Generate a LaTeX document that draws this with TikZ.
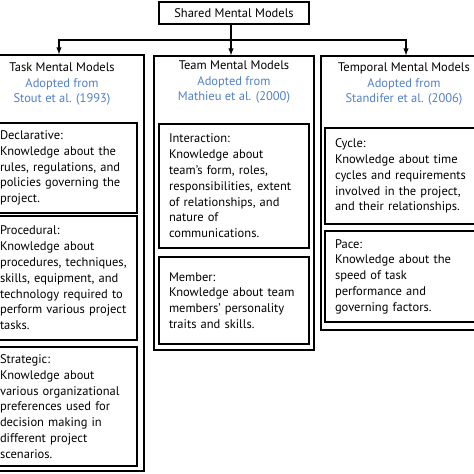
\documentclass[tikz,border=0pt]{standalone}
\usepackage{fontspec}
\setmainfont{PT Sans}
\usetikzlibrary{arrows.meta}
\definecolor{refblue}{RGB}{80,128,204}
\newcommand{\kfont}{\fontsize{12.5}{15.8}\selectfont}

\begin{document}
\begin{tikzpicture}[x=1pt, y=-1pt, >=latex, font=\kfont,
    outerbox/.style={draw, rectangle, line width=1.3pt},
    kbox/.style={draw, rectangle, line width=1.4pt, align=left, inner xsep=10pt, inner ysep=0pt, text width=#1},
    headtext/.style={align=center, inner sep=0pt}]
    \useasboundingbox (0,0) rectangle (474,474);
    \clip (0,0) rectangle (474,474);

    % top
    \node[outerbox, minimum width=150pt, minimum height=22pt, inner sep=0pt] (shared) at (234,13) {Shared Mental Models};
    \coordinate (fork) at (231,40);

    % columns
    \node[outerbox, minimum width=162pt, minimum height=416pt] (task) at (63,263) {};
    \node[outerbox, minimum width=160pt, minimum height=294pt] (team) at (234,203) {};
    \node[outerbox, minimum width=166pt, minimum height=274pt] (temporal) at (404,193) {};

    \node[headtext] (taskhead) at (62,84) {Task Mental Models\\\textcolor{refblue}{Adopted from}\\\textcolor{refblue}{Stout et al. (1993)}};
    \node[headtext] (teamhead) at (234,82) {Team Mental Models\\\textcolor{refblue}{Adopted from}\\\textcolor{refblue}{Mathieu et al. (2000)}};
    \node[headtext] (temporalhead) at (404,84) {Temporal Mental Models\\\textcolor{refblue}{Adopted from}\\\textcolor{refblue}{Standifer et al. (2006)}};

    % task
    \node[kbox=127pt, minimum height=90pt] (declarative) at (63.5,168) {Declarative:\\Knowledge about the\\rules, regulations, and\\policies governing the\\project.};
    \node[kbox=127pt, minimum height=124pt] (procedural) at (63.5,278) {Procedural:\\Knowledge about\\procedures, techniques,\\skills, equipment, and\\technology required to\\perform various project\\tasks.};
    \node[kbox=127pt, minimum height=119pt] (strategic) at (63.5,406.5) {Strategic:\\Knowledge about\\various organizational\\preferences used for\\decision making in\\different project\\scenarios.};

    % team
    \node[kbox=130pt, minimum height=124pt] (interaction) at (234,186) {Interaction:\\Knowledge about\\team’s form, roles,\\responsibilities, extent\\of relationships, and\\nature of\\communications.};
    \node[kbox=130pt, minimum height=87pt] (member) at (234,300.5) {Member:\\Knowledge about team\\members’ personality\\traits and skills.};

    % temporal
    \node[kbox=136pt, minimum height=96pt] (cycle) at (403,176) {Cycle:\\Knowledge about time\\cycles and requirements\\involved in the project,\\and their relationships.};
    \node[kbox=136pt, minimum height=91pt] (pace) at (403,276.5) {Pace:\\Knowledge about the\\speed of task\\performance and\\governing factors.};

    % connectors
    \draw[line width=1.4pt] (fork |- shared.south) -- (fork);
    \draw[line width=1.4pt, ->] (fork) -| (task.north -| 59,0);
    \draw[line width=1.4pt, ->] (fork) -- (fork |- team.north);
    \draw[line width=1.4pt, ->] (fork) -| (temporal.north -| 406,0);
\end{tikzpicture}
\end{document}
